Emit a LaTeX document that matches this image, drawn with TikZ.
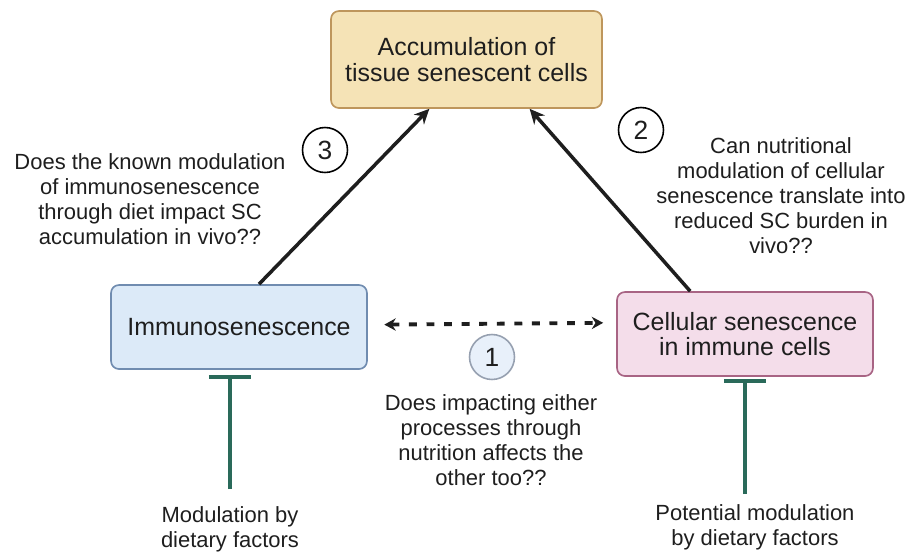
\documentclass[tikz,border=0pt]{standalone}
\usepackage{fontspec}
\setmainfont{Liberation Sans}
\usepackage{tikz}
\usetikzlibrary{arrows.meta, shapes.geometric, positioning}
\definecolor{tanfill}{RGB}{245,227,182}
\definecolor{tanline}{RGB}{190,150,92}
\definecolor{bluefill}{RGB}{220,234,248}
\definecolor{blueline}{RGB}{112,140,176}
\definecolor{pinkfill}{RGB}{244,221,234}
\definecolor{pinkline}{RGB}{168,100,132}
\definecolor{numfill}{RGB}{232,240,250}
\definecolor{numline}{RGB}{150,160,176}
\definecolor{inhibgreen}{RGB}{42,106,90}
\definecolor{textgray}{RGB}{30,30,30}
\tikzstyle{box} = [draw, line width=0.95pt, rounded corners=4.5pt, align=center, text=textgray, font=\fontsize{14.2}{14.4}\selectfont]
\tikzstyle{question} = [align=center, text=textgray, font=\fontsize{12.5}{14.2}\selectfont]
\tikzstyle{num} = [circle, draw, line width=0.9pt, minimum size=0.9cm, inner sep=0pt, text=textgray, font=\fontsize{15}{15}\selectfont]
\tikzstyle{arrow} = [line width=2pt, textgray, -{Stealth[length=8.5pt, width=8pt]}]
\tikzstyle{dasharrow} = [line width=2.2pt, textgray, dash pattern=on 4.5pt off 5.5pt, {Stealth[length=6.5pt, width=7pt]}-{Stealth[length=6.5pt, width=7pt]}]
\tikzstyle{inhib} = [line width=2.3pt, inhibgreen, -{Bar[width=24pt]}]

\begin{document}
\begin{tikzpicture}[x=0.02cm, y=-0.02cm]
    \useasboundingbox (0, 0) rectangle (921, 552);
    \node[box, fill=tanfill, draw=tanline, minimum width=5.42cm, minimum height=1.94cm] (top) at (466.5, 59.5) {Accumulation of\\tissue senescent cells};
    \node[box, fill=bluefill, draw=blueline, minimum width=5.12cm, minimum height=1.68cm] (immuno) at (239, 327) {Immunosenescence};
    \node[box, fill=pinkfill, draw=pinkline, minimum width=5.12cm, minimum height=1.68cm] (cell) at (745, 334) {Cellular senescence\\in immune cells};

    \node[question] (qthree) at (150, 199) {Does the known modulation\\of immunosenescence\\through diet impact SC\\accumulation in vivo??};
    \node[question] (qtwo) at (781, 196) {Can nutritional\\modulation of cellular\\senescence translate into\\reduced SC burden in\\vivo??};
    \node[question] (qone) at (491, 440) {Does impacting either\\processes through\\nutrition affects the\\other too??};
    \node[question] (modL) at (230, 529) {Modulation by\\dietary factors};
    \node[question] (modR) at (755, 527) {Potential modulation\\by dietary factors};

    \node[num, fill=white] (nthree) at (325, 150) {3};
    \node[num, fill=white] (ntwo) at (641, 130) {2};
    \node[num, fill=numfill, draw=numline] (none) at (492, 357) {1};

    \draw[arrow] (immuno.65.7) -- (top.233);
    \draw[arrow] (cell.142.6) -- (top.-38.3);
    \draw[dasharrow, shorten <=0.33cm, shorten >=0.26cm] (immuno.1.8) -- (cell.175.1);
    \draw[inhib, shorten <=0.22cm, shorten >=0.1cm] (modL.north) -- (modL.north |- immuno.south);
    \draw[inhib, shorten <=0.08cm, shorten >=0.05cm] (cell.south |- modR.north) -- (cell.south);
\end{tikzpicture}
\end{document}
